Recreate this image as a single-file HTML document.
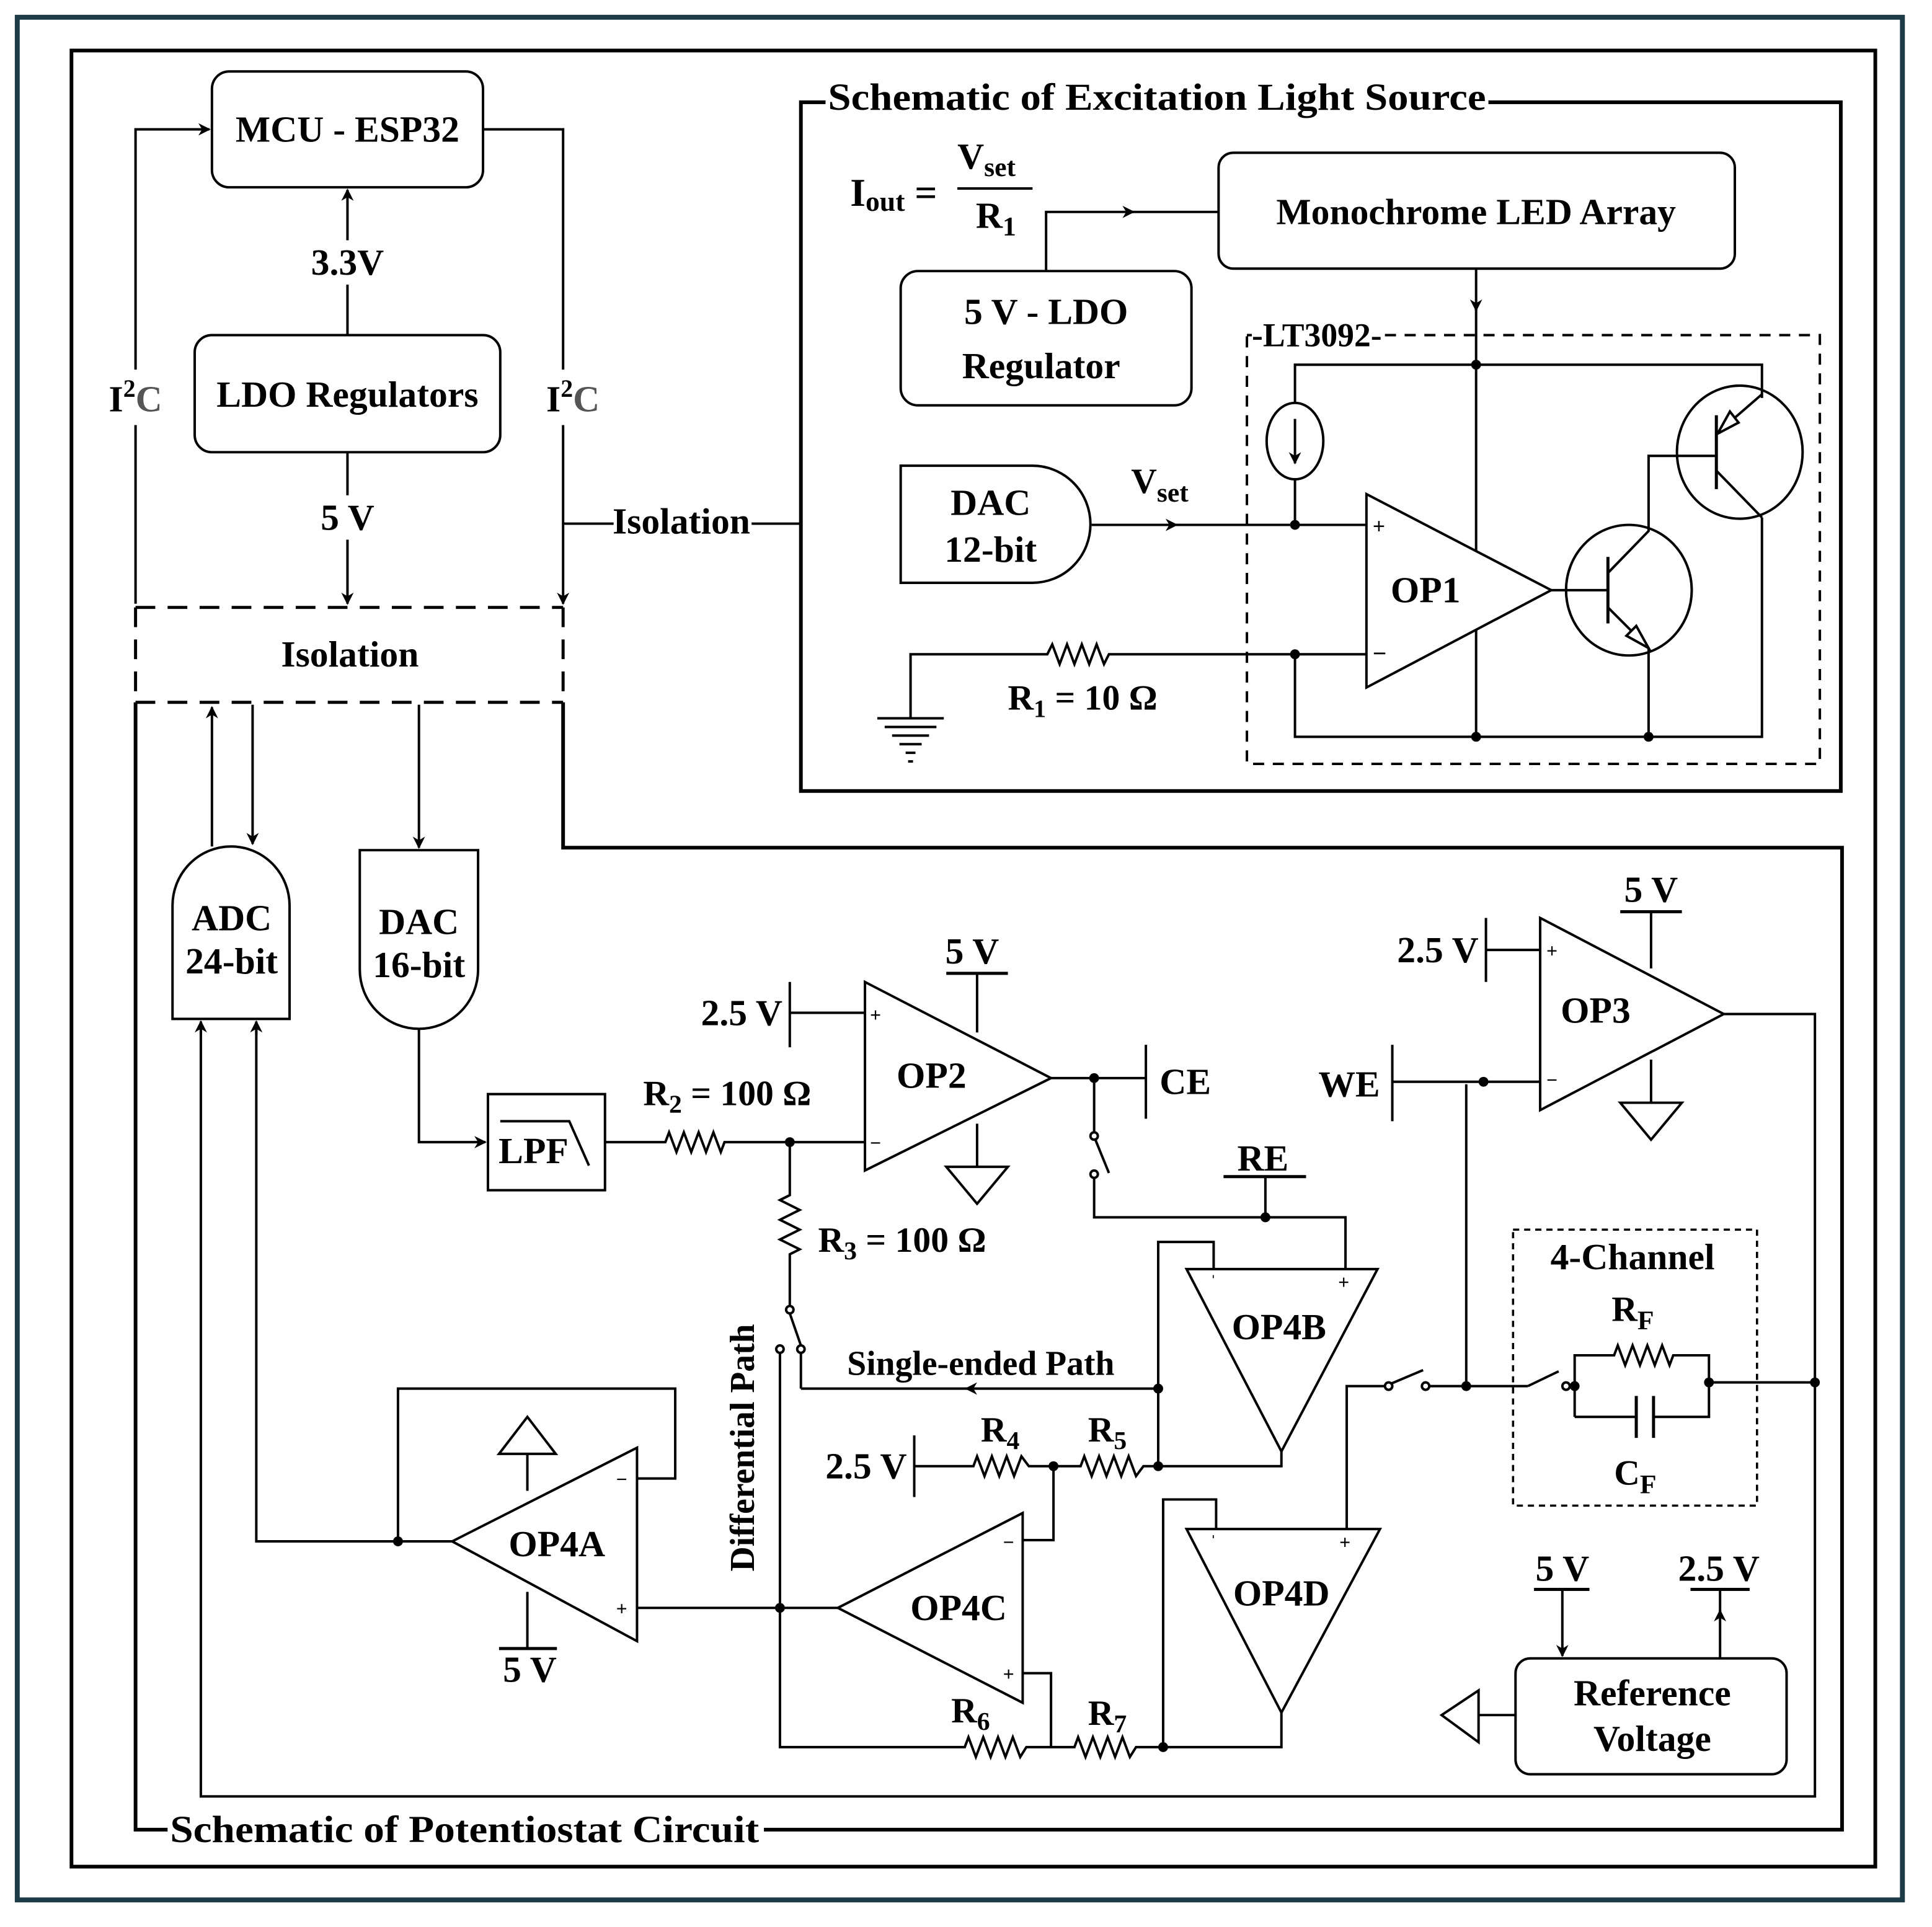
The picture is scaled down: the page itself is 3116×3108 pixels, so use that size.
<!DOCTYPE html>
<html><head><meta charset="utf-8"><style>
html,body{margin:0;padding:0;background:#fff}
svg{display:block}
text{font-family:"Liberation Serif",serif;font-weight:bold;fill:#000}
</style></head><body>
<svg width="3116" height="3108" viewBox="0 0 1568 1564" xmlns="http://www.w3.org/2000/svg">
<defs>
<marker id="a" markerWidth="10" markerHeight="10" refX="9" refY="5" orient="auto" markerUnits="userSpaceOnUse"><path d="M0,0 L10,5 L0,10 L3,5 Z" fill="#000"/></marker>
</defs>
<rect x="0" y="0" width="1568" height="1564" fill="#fff"/>
<rect x="14" y="14" width="1530" height="1528" fill="none" stroke="#1d3a47" stroke-width="4"/>
<rect x="58" y="41" width="1464" height="1474" fill="none" stroke="#000" stroke-width="3"/>

<g stroke="#000" stroke-width="2" fill="none">
<rect x="172" y="58" width="220" height="94" rx="14"/>
<rect x="158" y="272" width="248" height="95" rx="14"/>
<line x1="282" y1="272" x2="282" y2="154" marker-end="url(#a)"/>
<line x1="282" y1="367" x2="282" y2="490" marker-end="url(#a)"/>
<polyline points="110,490 110,105 170,105" marker-end="url(#a)"/>
<polyline points="392,105 457,105 457,490" marker-end="url(#a)"/>
<line x1="457" y1="425" x2="650" y2="425"/>
<g stroke-dasharray="16,10" stroke-width="2.5">
<line x1="110" y1="493" x2="457" y2="493"/>
<line x1="110" y1="570" x2="457" y2="570"/>
<line x1="110" y1="493" x2="110" y2="570"/>
<line x1="457" y1="493" x2="457" y2="570"/>
</g>
<polyline points="110,570 110,1485 1495,1485 1495,688 457,688 457,570" stroke-width="3"/>
<rect x="650" y="83" width="844" height="559" stroke-width="3"/>
</g>
<g fill="#fff">
<rect x="248" y="195" width="68" height="36"/>
<rect x="255" y="402" width="54" height="36"/>
<rect x="85" y="300" width="52" height="45"/>
<rect x="438" y="300" width="55" height="45"/>
<rect x="498" y="405" width="112" height="36"/>
<rect x="670" y="62" width="538" height="36"/>
<rect x="136" y="1468" width="484" height="36"/>
</g>
<g font-size="30" text-anchor="middle">
<text x="282" y="115">MCU - ESP32</text>
<text x="282" y="330">LDO Regulators</text>
<text x="282" y="223">3.3V</text>
<text x="282" y="430">5 V</text>
<text x="284" y="541">Isolation</text>
<text x="553" y="433">Isolation</text>
<text x="110" y="334">I<tspan font-size="20" dy="-12">2</tspan><tspan dy="12" fill="#555">C</tspan></text>
<text x="465" y="334">I<tspan font-size="20" dy="-12">2</tspan><tspan dy="12" fill="#555">C</tspan></text>
</g>
<text x="672" y="89" font-size="31" textLength="534" lengthAdjust="spacingAndGlyphs">Schematic of Excitation Light Source</text>
<text x="138" y="1495" font-size="31" textLength="478" lengthAdjust="spacingAndGlyphs">Schematic of Potentiostat Circuit</text>

<g stroke="#000" stroke-width="2" fill="none">
<line x1="777" y1="153" x2="838" y2="153"/>
<rect x="989" y="124" width="419" height="94" rx="12"/>
<rect x="731" y="220" width="236" height="109" rx="14"/>
<polyline points="849,220 849,172 920,172" marker-end="url(#a)"/>
<line x1="915" y1="172" x2="989" y2="172"/>
<line x1="1198" y1="218" x2="1198" y2="252" marker-end="url(#a)"/>
<line x1="1198" y1="248" x2="1198" y2="598"/>
<rect x="1012" y="272" width="465" height="348" stroke-dasharray="9,7"/>
<polyline points="1051,327 1051,296 1430,296 1430,323"/>
<ellipse cx="1051" cy="358" rx="23" ry="31"/>
<line x1="1051" y1="340" x2="1051" y2="376" marker-end="url(#a)"/>
<line x1="1051" y1="389" x2="1051" y2="426"/>
<path d="M731,378 H838 A47,47.5 0 0 1 838,473 H731 Z"/>
<line x1="886" y1="426" x2="955" y2="426" marker-end="url(#a)"/>
<line x1="950" y1="426" x2="1109" y2="426"/>
<polyline points="739,583 739,531 850,531 854,523 860,539 866,523 872,539 878,523 884,539 890,523 896,539 900,531 1109,531"/>
<line x1="712" y1="583" x2="766" y2="583"/>
<line x1="718" y1="590" x2="760" y2="590"/>
<line x1="724" y1="597" x2="754" y2="597"/>
<line x1="730" y1="604" x2="748" y2="604"/>
<line x1="735" y1="611" x2="743" y2="611"/>
<line x1="737" y1="618" x2="741" y2="618"/>
<polyline points="1051,531 1051,598 1430,598 1430,420"/>
<polygon points="1109,401 1109,558 1259,479" fill="#fff"/>
<line x1="1259" y1="479" x2="1305" y2="479"/>
<ellipse cx="1322" cy="479" rx="51" ry="53"/>
<line x1="1305" y1="452" x2="1305" y2="506" stroke-width="2.5"/>
<polyline points="1305,465 1338,431 1338,370 1393,370"/>
<polyline points="1305,493 1338,526 1338,598"/>
<polygon points="1338,526 1320,516 1328,508" fill="#fff"/>
<ellipse cx="1412" cy="367" rx="51" ry="54"/>
<line x1="1393" y1="337" x2="1393" y2="397" stroke-width="2.5"/>
<line x1="1393" y1="352" x2="1430" y2="320"/>
<polygon points="1394,352 1404,334 1411,343" fill="#fff"/>
<polyline points="1393,382 1430,420"/>
</g>
<g fill="#000">
<circle cx="1198" cy="296" r="4"/><circle cx="1051" cy="426" r="4"/><circle cx="1051" cy="531" r="4"/>
<circle cx="1198" cy="598" r="4"/><circle cx="1338" cy="598" r="4"/>
</g>
<rect x="1016" y="258" width="104" height="28" fill="#fff"/>
<text x="1016" y="281" font-size="27">-LT3092-</text>
<g font-size="30" text-anchor="middle">
<text x="1198" y="182">Monochrome LED Array</text>
<text x="849" y="263">5 V - LDO</text>
<text x="845" y="307">Regulator</text>
<text x="804" y="418">DAC</text>
<text x="804" y="456">12-bit</text>
<text x="1157" y="489" font-size="30">OP1</text>
</g>
<text x="690" y="167" font-size="32">I<tspan font-size="23" dy="4">out</tspan><tspan dy="-4" font-size="32"> =</tspan></text>
<text x="777" y="137" font-size="30">V<tspan font-size="22" dy="6">set</tspan></text>
<text x="792" y="185" font-size="30">R<tspan font-size="22" dy="6">1</tspan></text>
<text x="918" y="400" font-size="29">V<tspan font-size="22" dy="7">set</tspan></text>
<text x="818" y="576" font-size="29">R<tspan font-size="20" dy="6">1</tspan><tspan dy="-6"> = 10 Ω</tspan></text>
<text x="1114" y="433" font-size="18">+</text>
<text x="1114" y="537" font-size="20">−</text>

<g stroke="#000" stroke-width="2" fill="none">
<path d="M140,827 V735 A47.5,48 0 0 1 235,735 V827 Z"/>
<line x1="172" y1="687" x2="172" y2="574" marker-end="url(#a)"/>
<line x1="205" y1="572" x2="205" y2="685" marker-end="url(#a)"/>
<path d="M292,690 H388 V787 A48,48 0 0 1 292,787 Z"/>
<line x1="340" y1="572" x2="340" y2="688" marker-end="url(#a)"/>
<polyline points="340,835 340,927 394,927" marker-end="url(#a)"/>
<rect x="396" y="888" width="95" height="78"/>
<polyline points="406,910 462,910 478,946"/>
<polyline points="491,927 540,927 543,919 549,935 555,919 561,935 567,919 573,935 579,919 585,935 588,927 702,927"/>
<polyline points="641,927 641,970 633,974 649,982 633,990 649,998 633,1006 649,1014 641,1018 641,1060"/>
<circle cx="641" cy="1063" r="3" fill="#fff"/>
<line x1="641" y1="1066" x2="650" y2="1092"/>
<circle cx="650" cy="1095" r="3" fill="#fff"/>
<circle cx="633" cy="1095" r="3" fill="#fff"/>
<line x1="650" y1="1098" x2="650" y2="1127"/>
<line x1="940" y1="1127" x2="784" y2="1127" marker-end="url(#a)"/>
<line x1="790" y1="1127" x2="650" y2="1127"/>
<polyline points="633,1098 633,1418 783,1418 786,1410 792,1426 798,1410 804,1426 810,1410 816,1426 822,1410 828,1426 833,1418 872,1418 875,1410 881,1426 887,1410 893,1426 899,1410 905,1426 911,1410 917,1426 922,1418 1040,1418 1040,1390"/>
<polygon points="702,797 702,950 853,875"/>
<line x1="641" y1="797" x2="641" y2="850"/>
<line x1="641" y1="822" x2="702" y2="822"/>
<line x1="768" y1="790" x2="818" y2="790" stroke-width="2.5"/>
<line x1="793" y1="790" x2="793" y2="838"/>
<line x1="793" y1="912" x2="793" y2="947"/>
<polygon points="768,947 818,947 793,977"/>
<line x1="853" y1="875" x2="930" y2="875"/>
<line x1="930" y1="848" x2="930" y2="908"/>
<line x1="888" y1="875" x2="888" y2="919"/>
<circle cx="888" cy="922" r="3" fill="#fff"/>
<line x1="889" y1="925" x2="900" y2="952"/>
<circle cx="888" cy="953" r="3" fill="#fff"/>
<polyline points="888,956 888,988 1092,988 1092,1030"/>
<line x1="993" y1="955" x2="1060" y2="955" stroke-width="2.5"/>
<line x1="1027" y1="955" x2="1027" y2="988"/>
<polygon points="963,1030 1118,1030 1040,1178"/>
<polyline points="985,1030 985,1008 940,1008 940,1190"/>
<polyline points="1040,1178 1040,1190 940,1190"/>
<line x1="742" y1="1165" x2="742" y2="1215"/>
<polyline points="742,1190 790,1190 793,1182 799,1198 805,1182 811,1198 817,1182 823,1198 829,1182 835,1190 877,1190 880,1182 886,1198 892,1182 898,1198 904,1182 910,1198 916,1182 922,1198 928,1190 940,1190"/>
<polyline points="855,1190 855,1250 830,1250"/>
<polygon points="830,1228 830,1382 680,1305"/>
<line x1="517" y1="1305" x2="680" y2="1305"/>
<polyline points="830,1358 853,1358 853,1418"/>
<polygon points="963,1241 1120,1241 1040,1390"/>
<polyline points="987,1241 987,1217 944,1217 944,1418"/>
<polyline points="1093,1241 1093,1125 1124,1125"/>
<circle cx="1127" cy="1125" r="3" fill="#fff"/>
<line x1="1129" y1="1123" x2="1155" y2="1112"/>
<circle cx="1157" cy="1125" r="3" fill="#fff"/>
<line x1="1160" y1="1125" x2="1240" y2="1125"/>
<line x1="1240" y1="1125" x2="1265" y2="1113"/>
<circle cx="1271" cy="1125" r="3" fill="#fff"/>
<line x1="1274" y1="1125" x2="1278" y2="1125"/>
<polygon points="1250,745 1250,901 1399,823"/>
<line x1="1206" y1="745" x2="1206" y2="797"/>
<line x1="1206" y1="771" x2="1250" y2="771"/>
<line x1="1315" y1="740" x2="1365" y2="740" stroke-width="2.5"/>
<line x1="1340" y1="740" x2="1340" y2="786"/>
<line x1="1340" y1="860" x2="1340" y2="895"/>
<polygon points="1315,895 1365,895 1340,925"/>
<line x1="1130" y1="848" x2="1130" y2="910"/>
<line x1="1130" y1="878" x2="1250" y2="878"/>
<line x1="1190" y1="880" x2="1190" y2="1125"/>
<polyline points="1399,823 1473,823 1473,1458 163,1458 163,830"/>
<line x1="163" y1="840" x2="163" y2="829" marker-end="url(#a)"/>
<polyline points="367,1251 208,1251 208,830"/>
<line x1="208" y1="840" x2="208" y2="829" marker-end="url(#a)"/>
<rect x="1228" y="998" width="198" height="224" stroke-dasharray="5,4" stroke-width="1.8"/>
<polyline points="1278,1150 1278,1100 1310,1100 1313,1092 1319,1108 1325,1092 1331,1108 1337,1092 1343,1108 1349,1092 1355,1108 1358,1100 1387,1100 1387,1150 1342,1150"/>
<line x1="1278" y1="1150" x2="1328" y2="1150"/>
<line x1="1328" y1="1133" x2="1328" y2="1167" stroke-width="2.5"/>
<line x1="1342" y1="1133" x2="1342" y2="1167" stroke-width="2.5"/>
<line x1="1387" y1="1122" x2="1473" y2="1122"/>
<polygon points="517,1175 517,1332 367,1251"/>
<polyline points="517,1200 548,1200 548,1127 323,1127 323,1251"/>
<line x1="428" y1="1210" x2="428" y2="1180"/>
<polygon points="405,1180 451,1180 428,1150"/>
<line x1="428" y1="1292" x2="428" y2="1338"/>
<line x1="405" y1="1338" x2="452" y2="1338" stroke-width="2.5"/>
<rect x="1230" y="1346" width="220" height="94" rx="12"/>
<line x1="1245" y1="1290" x2="1290" y2="1290" stroke-width="2.5"/>
<line x1="1268" y1="1290" x2="1268" y2="1344" marker-end="url(#a)"/>
<line x1="1372" y1="1290" x2="1420" y2="1290" stroke-width="2.5"/>
<line x1="1396" y1="1346" x2="1396" y2="1307" marker-end="url(#a)"/>
<line x1="1396" y1="1310" x2="1396" y2="1290"/>
<line x1="1230" y1="1392" x2="1200" y2="1392"/>
<polygon points="1200,1372 1200,1414 1170,1392"/>
</g>
<g fill="#000">
<circle cx="641" cy="927" r="4"/><circle cx="888" cy="875" r="4"/><circle cx="1027" cy="988" r="4"/>
<circle cx="940" cy="1127" r="4"/><circle cx="940" cy="1190" r="4"/><circle cx="855" cy="1190" r="4"/>
<circle cx="633" cy="1305" r="4"/><circle cx="944" cy="1418" r="4"/><circle cx="323" cy="1251" r="4"/>
<circle cx="1204" cy="878" r="4"/><circle cx="1190" cy="1125" r="4"/><circle cx="1278" cy="1125" r="4"/>
<circle cx="1387" cy="1122" r="4"/><circle cx="1473" cy="1122" r="4"/>
</g>
<g font-size="30" text-anchor="middle">
<text x="188" y="755">ADC</text>
<text x="188" y="790">24-bit</text>
<text x="340" y="758">DAC</text>
<text x="340" y="793">16-bit</text>
<text x="433" y="944">LPF</text>
<text x="756" y="883">OP2</text>
<text x="789" y="782">5 V</text>
<text x="962" y="888">CE</text>
<text x="1025" y="950">RE</text>
<text x="1038" y="1087">OP4B</text>
<text x="778" y="1315">OP4C</text>
<text x="1040" y="1303">OP4D</text>
<text x="452" y="1263">OP4A</text>
<text x="1295" y="830">OP3</text>
<text x="1340" y="732">5 V</text>
<text x="1095" y="890">WE</text>
<text x="1325" y="1030">4-Channel</text>
<text x="796" y="1116" font-size="28">Single-ended Path</text>
<text x="430" y="1365">5 V</text>
<text x="1268" y="1283">5 V</text>
<text x="1395" y="1283">2.5 V</text>
<text x="1341" y="1384">Reference</text>
<text x="1341" y="1421">Voltage</text>
</g>
<g font-size="30" text-anchor="end">
<text x="635" y="832">2.5 V</text>
<text x="1200" y="781">2.5 V</text>
<text x="736" y="1200">2.5 V</text>
</g>
<text x="522" y="897" font-size="29">R<tspan font-size="21" dy="6">2</tspan><tspan dy="-6"> = 100 Ω</tspan></text>
<text x="664" y="1016" font-size="29">R<tspan font-size="21" dy="6">3</tspan><tspan dy="-6"> = 100 Ω</tspan></text>
<text x="796" y="1170" font-size="29">R<tspan font-size="21" dy="6">4</tspan></text>
<text x="883" y="1170" font-size="29">R<tspan font-size="21" dy="6">5</tspan></text>
<text x="772" y="1398" font-size="29">R<tspan font-size="21" dy="6">6</tspan></text>
<text x="883" y="1400" font-size="29">R<tspan font-size="21" dy="6">7</tspan></text>
<text x="1308" y="1072" font-size="29">R<tspan font-size="22" dy="7">F</tspan></text>
<text x="1310" y="1205" font-size="29">C<tspan font-size="22" dy="7">F</tspan></text>
<text transform="translate(612,1175) rotate(-90)" font-size="28" text-anchor="middle">Differential Path</text>
<g font-size="16" font-weight="normal">
<text x="706" y="829">+</text><text x="706" y="933">−</text>
<text x="1255" y="777">+</text><text x="1255" y="882">−</text>
<text x="982" y="1046">ˈ</text><text x="1086" y="1046">+</text>
<text x="982" y="1257">ˈ</text><text x="1087" y="1257">+</text>
<text x="814" y="1257">−</text><text x="814" y="1364">+</text>
<text x="500" y="1206">−</text><text x="500" y="1311">+</text>
</g>
</svg>
</body></html>
